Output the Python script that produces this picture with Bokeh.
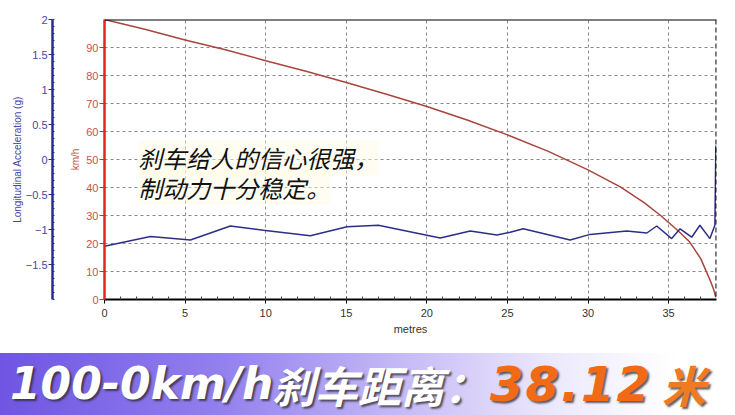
from bokeh.plotting import figure
from bokeh.models import Range1d, LinearAxis, FixedTicker, Span, Label, Div
from bokeh.layouts import column
from bokeh.embed import file_html
from bokeh.resources import INLINE

# ---- data ----
dist_speed = [0, 2.5, 5, 7.5, 10, 12.5, 15, 17.5, 20, 22.5, 25, 27.5, 30, 32, 33.5,
              34.5, 35.5, 36.3, 37.0, 37.3, 37.6, 37.8, 37.93]
speed_kmh = [100, 96.5, 92.7, 89.2, 85.3, 81.5, 77.5, 73.3, 68.9, 64.1, 58.8, 53.0, 46.3,
             40.2, 34.5, 30.0, 25.0, 20.6, 14.5, 10.5, 6.5, 3.5, 0.8]

dist_acc = [0, 2.85, 5.33, 7.81, 9.86, 12.77, 15.05, 16.99, 20.83, 22.69, 24.35, 25.17,
            25.98, 28.89, 30.13, 32.40, 33.65, 34.26, 35.19, 35.71, 36.43, 36.94, 37.56,
            37.87, 37.93]
acc_g = [-1.24, -1.10, -1.15, -0.95, -1.01, -1.09, -0.96, -0.94, -1.12, -1.02, -1.08,
         -1.04, -0.99, -1.15, -1.07, -1.02, -1.05, -0.95, -1.13, -0.99, -1.11, -0.94,
         -1.13, -0.94, 0.2]

x_ticks = [0, 5, 10, 15, 20, 25, 30, 35]
x_minor = [i for i in range(0, 38)]
speed_ticks = [0, 10, 20, 30, 40, 50, 60, 70, 80, 90]
acc_ticks = [-1.5, -1, -0.5, 0, 0.5, 1, 1.5, 2]
acc_minor = [round(-2 + 0.1 * i, 1) for i in range(41)]
stop_distance = 37.95

note_lines = ["刹车给人的信心很强，", "制动力十分稳定。"]
banner_parts = ["100-0km/h", "刹车距离：", "38.12", "米"]

FONT = "Liberation Sans"
RED_AX = "#e52320"
RED_LBL = "#c9504b"
BLUE_AX = "#2a2a9a"
BLUE_LBL = "#4646a6"

p = figure(width=735, height=353, output_backend="svg", toolbar_location=None,
           x_range=Range1d(0, 37.97), y_range=Range1d(0, 100),
           min_border_left=104, min_border_right=19, min_border_top=19,
           min_border_bottom=54)
p.extra_y_ranges = {"acc": Range1d(-2, 2)}
p.outline_line_color = None
p.background_fill_color = "white"
p.border_fill_color = "white"

# x axis
xa = p.xaxis[0]
xa.ticker = FixedTicker(ticks=x_ticks, minor_ticks=x_minor)
xa.axis_label = "metres"
xa.axis_label_text_font = FONT
xa.axis_label_text_font_style = "normal"
xa.axis_label_text_font_size = "11px"
xa.axis_label_text_color = "#333333"
xa.axis_label_standoff = 3
xa.major_label_text_font = FONT
xa.major_label_text_font_size = "11px"
xa.major_label_text_color = "#333333"
xa.major_label_standoff = 5
xa.axis_line_color = "black"
xa.axis_line_width = 2
xa.major_tick_line_color = "black"
xa.major_tick_out = 4
xa.major_tick_in = 0
xa.minor_tick_line_color = "#444444"
xa.minor_tick_in = 3
xa.minor_tick_out = 0

# red speed axis (inner)
ya = p.yaxis[0]
ya.ticker = FixedTicker(ticks=speed_ticks)
ya.axis_label = "km/h"
ya.axis_label_text_font = FONT
ya.axis_label_text_font_style = "normal"
ya.axis_label_text_font_size = "10px"
ya.axis_label_text_color = RED_LBL
ya.axis_label_standoff = 2
ya.major_label_text_font = FONT
ya.major_label_text_font_size = "11px"
ya.major_label_text_color = RED_LBL
ya.major_label_standoff = 1
ya.axis_line_color = RED_AX
ya.axis_line_width = 2.5
ya.major_tick_line_color = RED_AX
ya.major_tick_out = 5
ya.major_tick_in = 0
ya.minor_tick_line_color = None

# spacer axis
sp = LinearAxis(ticker=FixedTicker(ticks=[]), axis_label="|",
                axis_label_text_alpha=0, axis_label_text_font_size="10px",
                axis_label_standoff=1, axis_line_color=None,
                major_tick_line_color=None, minor_tick_line_color=None,
                major_tick_out=0, minor_tick_out=0, major_label_standoff=0)
p.add_layout(sp, "left")

# blue acceleration axis (outer)
ba = LinearAxis(y_range_name="acc",
                ticker=FixedTicker(ticks=acc_ticks, minor_ticks=acc_minor),
                axis_label="Longitudinal Acceleration (g)")
ba.axis_label_text_font = FONT
ba.axis_label_text_font_style = "normal"
ba.axis_label_text_font_size = "10px"
ba.axis_label_text_color = BLUE_LBL
ba.axis_label_standoff = 0
ba.major_label_text_font = FONT
ba.major_label_text_font_size = "11px"
ba.major_label_text_color = BLUE_LBL
ba.major_label_standoff = 1
ba.axis_line_color = BLUE_AX
ba.axis_line_width = 2.5
ba.major_tick_line_color = BLUE_AX
ba.major_tick_out = 4
ba.major_tick_in = 0
ba.minor_tick_line_color = BLUE_AX
ba.minor_tick_in = 2
ba.minor_tick_out = 0
p.add_layout(ba, "left")

# grid
for g in (p.xgrid[0], p.ygrid[0]):
    g.grid_line_color = "#8a8a8a"
    g.grid_line_dash = "3 3"
    g.grid_line_width = 1

# frame pieces
p.add_layout(Span(location=100, dimension="width", line_color="black", line_width=2))
p.add_layout(Span(location=stop_distance, dimension="height", line_color="#111111",
                  line_width=1.5, line_dash="5 3"))

# data
p.line(dist_speed, speed_kmh, line_color="#a8453c", line_width=1.5)
p.line(dist_acc, acc_g, y_range_name="acc", line_color="#2e2e86", line_width=1.5)

# note
for txt, yv in zip(note_lines, [50.6, 40.0]):
    p.add_layout(Label(x=2.1, y=yv, text=txt, text_font="Noto Sans CJK SC",
                       text_font_size="24px", text_font_style="italic",
                       text_color="#111111", text_baseline="middle", text_align="left",
                       background_fill_color="#fffbe0", background_fill_alpha=0.45))

# ---- banner ----
part_left = [10, 272, 490, 662]
part_font = ["DejaVu Sans", "Noto Sans CJK SC", "DejaVu Sans", "Noto Sans CJK SC"]
part_size = [44, 43, 48, 44]
part_spacing = [0, 0, 2, 0]
part_col = ["#ffffff", "#ffffff", "#f26a16", "#f07a22"]
spans = []
for txt, lx, fnt, sz, ls, colr in zip(banner_parts, part_left, part_font, part_size,
                                      part_spacing, part_col):
    spans.append(
        f'<span style="position:absolute;left:{lx}px;top:0;height:62px;line-height:62px;'
        f"font-family:'{fnt}';font-size:{sz}px;font-weight:bold;font-style:italic;"
        f'letter-spacing:{ls}px;'
        f'color:{colr};text-shadow:2px 2px 2px rgba(40,40,40,0.75);white-space:nowrap;">'
        f'{txt}</span>')
banner_html = (
    '<div style="position:relative;width:735px;height:62px;overflow:hidden;'
    'background:linear-gradient(to right,#6f55e2 0%,#9380ee 30%,#c6bbf6 55%,'
    '#ece8fc 75%,#ffffff 92%);">' + "".join(spans) + "</div>")
banner = Div(text=banner_html, width=735, height=62, margin=(0, 0, 0, 0))

lay = column(p, banner, spacing=0)
open("out.html", "w").write(file_html(lay, INLINE))
